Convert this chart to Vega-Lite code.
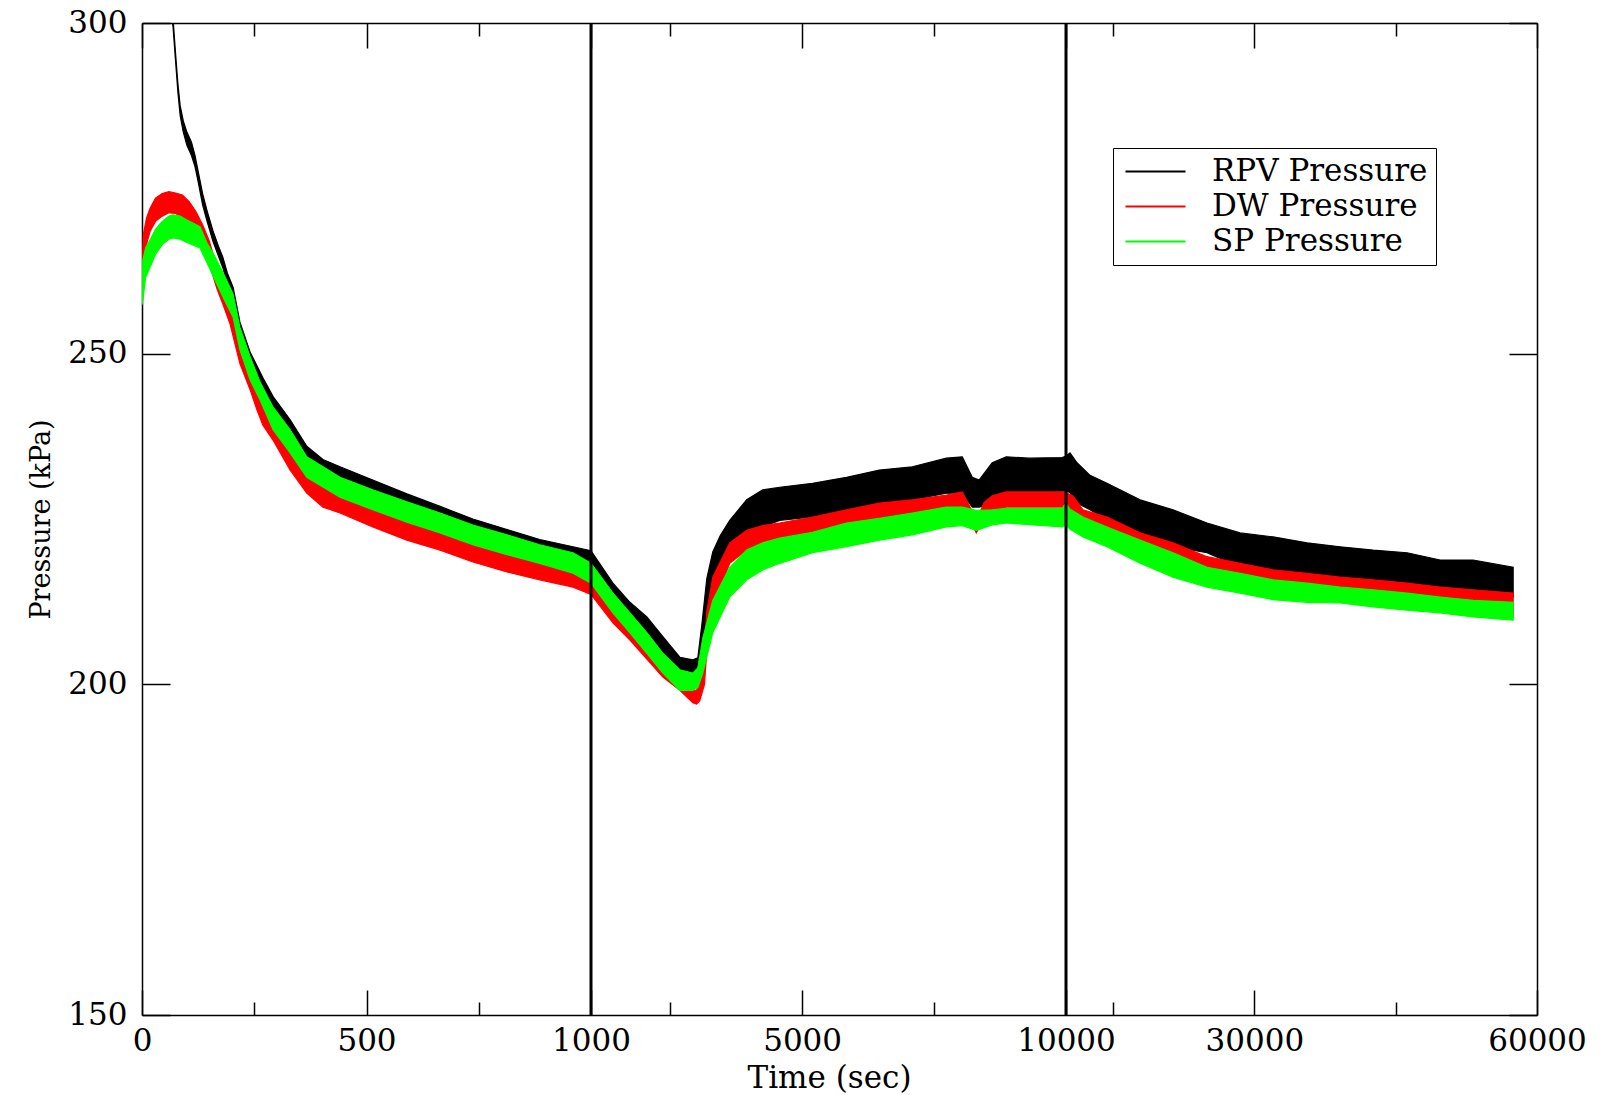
{
  "$schema": "https://vega.github.io/schema/vega-lite/v6.json",
  "width": 1395,
  "height": 992,
  "autosize": {"type": "none"},
  "padding": {"left": 142, "top": 23, "right": 63, "bottom": 80},
  "background": "white",
  "config": {
    "view": {"stroke": null},
    "font": "DejaVu Serif",
    "axis": {
      "grid": false,
      "domainColor": "black",
      "domainWidth": 1.5,
      "tickColor": "black",
      "tickWidth": 1.5,
      "labelColor": "black",
      "titleColor": "black",
      "labelFont": "DejaVu Serif",
      "titleFont": "DejaVu Serif",
      "labelFontSize": 31,
      "titleFontSize": 31,
      "titleFontWeight": "normal",
      "labelFlush": false,
      "labelOverlap": false
    },
    "legend": {
      "orient": "none",
      "legendX": 971,
      "legendY": 125,
      "symbolType": "M-1.1,0H4.9",
      "symbolSize": 400,
      "symbolStrokeWidth": 2,
      "labelFont": "DejaVu Serif",
      "labelFontSize": 31,
      "labelColor": "black",
      "labelOffset": 60,
      "labelLimit": 0,
      "padding": 8,
      "rowPadding": 3,
      "strokeColor": "black",
      "fillColor": "white",
      "cornerRadius": 0
    }
  },
  "datasets": {
    "curves": [
      {"s":"RPV Pressure","t":66,"lo":301,"hi":303},
      {"s":"RPV Pressure","t":69,"lo":299.5,"hi":300.8},
      {"s":"RPV Pressure","t":75,"lo":294,"hi":295.2},
      {"s":"RPV Pressure","t":80,"lo":289.5,"hi":290.8},
      {"s":"RPV Pressure","t":85,"lo":286,"hi":287.5},
      {"s":"RPV Pressure","t":92,"lo":283.5,"hi":285.2},
      {"s":"RPV Pressure","t":100,"lo":281.5,"hi":283.5},
      {"s":"RPV Pressure","t":110,"lo":280,"hi":282},
      {"s":"RPV Pressure","t":118,"lo":278.3,"hi":280},
      {"s":"RPV Pressure","t":125,"lo":276,"hi":277.6},
      {"s":"RPV Pressure","t":135,"lo":272.5,"hi":274.2},
      {"s":"RPV Pressure","t":145,"lo":270,"hi":271.6},
      {"s":"RPV Pressure","t":158,"lo":267,"hi":268.6},
      {"s":"RPV Pressure","t":170,"lo":264.8,"hi":266.3},
      {"s":"RPV Pressure","t":180,"lo":263,"hi":264.6},
      {"s":"RPV Pressure","t":190,"lo":260.5,"hi":262.2},
      {"s":"RPV Pressure","t":203,"lo":257.5,"hi":260},
      {"s":"RPV Pressure","t":218,"lo":252,"hi":254.8},
      {"s":"RPV Pressure","t":241,"lo":247.3,"hi":250.2},
      {"s":"RPV Pressure","t":269,"lo":243.4,"hi":246.4},
      {"s":"RPV Pressure","t":292,"lo":240.5,"hi":243.5},
      {"s":"RPV Pressure","t":330,"lo":237,"hi":240},
      {"s":"RPV Pressure","t":367,"lo":233,"hi":236},
      {"s":"RPV Pressure","t":403,"lo":231,"hi":234},
      {"s":"RPV Pressure","t":441,"lo":229.9,"hi":232.9},
      {"s":"RPV Pressure","t":514,"lo":227.9,"hi":230.9},
      {"s":"RPV Pressure","t":590,"lo":225.8,"hi":228.8},
      {"s":"RPV Pressure","t":664,"lo":223.9,"hi":226.9},
      {"s":"RPV Pressure","t":737,"lo":222,"hi":225},
      {"s":"RPV Pressure","t":813,"lo":220.4,"hi":223.4},
      {"s":"RPV Pressure","t":886,"lo":218.9,"hi":221.9},
      {"s":"RPV Pressure","t":960,"lo":217.8,"hi":220.8},
      {"s":"RPV Pressure","t":1000,"lo":217.4,"hi":220.2},
      {"s":"RPV Pressure","t":1416,"lo":212.7,"hi":215.3},
      {"s":"RPV Pressure","t":1738,"lo":209.7,"hi":212.4},
      {"s":"RPV Pressure","t":2059,"lo":207.2,"hi":210.2},
      {"s":"RPV Pressure","t":2362,"lo":204.1,"hi":207.2},
      {"s":"RPV Pressure","t":2683,"lo":202.2,"hi":204.1},
      {"s":"RPV Pressure","t":2929,"lo":201.7,"hi":203.7},
      {"s":"RPV Pressure","t":3024,"lo":201.5,"hi":204},
      {"s":"RPV Pressure","t":3100,"lo":203,"hi":209},
      {"s":"RPV Pressure","t":3194,"lo":210,"hi":216},
      {"s":"RPV Pressure","t":3307,"lo":214,"hi":220},
      {"s":"RPV Pressure","t":3450,"lo":217,"hi":222.5},
      {"s":"RPV Pressure","t":3629,"lo":219.9,"hi":224.8},
      {"s":"RPV Pressure","t":3950,"lo":222.9,"hi":227.9},
      {"s":"RPV Pressure","t":4253,"lo":223.8,"hi":229.4},
      {"s":"RPV Pressure","t":4574,"lo":224.8,"hi":229.8},
      {"s":"RPV Pressure","t":5198,"lo":225.3,"hi":230.4},
      {"s":"RPV Pressure","t":5841,"lo":225.9,"hi":231.3},
      {"s":"RPV Pressure","t":6465,"lo":226.8,"hi":232.4},
      {"s":"RPV Pressure","t":7089,"lo":227.9,"hi":232.9},
      {"s":"RPV Pressure","t":7732,"lo":228.9,"hi":234.2},
      {"s":"RPV Pressure","t":8035,"lo":228.9,"hi":234.4},
      {"s":"RPV Pressure","t":8224,"lo":226.8,"hi":231.3},
      {"s":"RPV Pressure","t":8356,"lo":226.8,"hi":230.9},
      {"s":"RPV Pressure","t":8602,"lo":227.5,"hi":233.5},
      {"s":"RPV Pressure","t":8867,"lo":228.9,"hi":234.4},
      {"s":"RPV Pressure","t":9302,"lo":229.1,"hi":234.2},
      {"s":"RPV Pressure","t":9926,"lo":229.2,"hi":234.3},
      {"s":"RPV Pressure","t":10000,"lo":229.2,"hi":234.5},
      {"s":"RPV Pressure","t":10425,"lo":229,"hi":235},
      {"s":"RPV Pressure","t":11170,"lo":227.4,"hi":233.5},
      {"s":"RPV Pressure","t":12550,"lo":226.4,"hi":231.6},
      {"s":"RPV Pressure","t":14350,"lo":224.8,"hi":230.4},
      {"s":"RPV Pressure","t":17860,"lo":222.9,"hi":227.9},
      {"s":"RPV Pressure","t":21360,"lo":220.8,"hi":226.4},
      {"s":"RPV Pressure","t":24970,"lo":219.9,"hi":224.4},
      {"s":"RPV Pressure","t":28480,"lo":217.7,"hi":222.9},
      {"s":"RPV Pressure","t":31980,"lo":216.8,"hi":222.3},
      {"s":"RPV Pressure","t":35590,"lo":216.2,"hi":221.4},
      {"s":"RPV Pressure","t":39100,"lo":215.3,"hi":220.8},
      {"s":"RPV Pressure","t":42600,"lo":214.7,"hi":220.3},
      {"s":"RPV Pressure","t":46210,"lo":214.3,"hi":219.9},
      {"s":"RPV Pressure","t":49720,"lo":213.8,"hi":218.8},
      {"s":"RPV Pressure","t":53220,"lo":213.2,"hi":218.8},
      {"s":"RPV Pressure","t":57470,"lo":213.2,"hi":217.7},

      {"s":"DW Pressure","t":0,"lo":258,"hi":262},
      {"s":"DW Pressure","t":3,"lo":262,"hi":268},
      {"s":"DW Pressure","t":10,"lo":266.5,"hi":270.5},
      {"s":"DW Pressure","t":18,"lo":268.5,"hi":272},
      {"s":"DW Pressure","t":30,"lo":270,"hi":273.5},
      {"s":"DW Pressure","t":45,"lo":270.8,"hi":274.2},
      {"s":"DW Pressure","t":60,"lo":271.3,"hi":274.5},
      {"s":"DW Pressure","t":75,"lo":271.2,"hi":274.3},
      {"s":"DW Pressure","t":90,"lo":270.5,"hi":274},
      {"s":"DW Pressure","t":105,"lo":269.5,"hi":273},
      {"s":"DW Pressure","t":120,"lo":268,"hi":271.5},
      {"s":"DW Pressure","t":135,"lo":266,"hi":269.5},
      {"s":"DW Pressure","t":150,"lo":263.5,"hi":267},
      {"s":"DW Pressure","t":167,"lo":259.8,"hi":263},
      {"s":"DW Pressure","t":180,"lo":257.5,"hi":261.5},
      {"s":"DW Pressure","t":196,"lo":254.5,"hi":258},
      {"s":"DW Pressure","t":218,"lo":248.5,"hi":253},
      {"s":"DW Pressure","t":241,"lo":244.5,"hi":248},
      {"s":"DW Pressure","t":256,"lo":241.5,"hi":245},
      {"s":"DW Pressure","t":269,"lo":239.2,"hi":243},
      {"s":"DW Pressure","t":292,"lo":236.9,"hi":240.4},
      {"s":"DW Pressure","t":330,"lo":232.4,"hi":235.9},
      {"s":"DW Pressure","t":367,"lo":228.9,"hi":232},
      {"s":"DW Pressure","t":403,"lo":226.8,"hi":229.8},
      {"s":"DW Pressure","t":441,"lo":225.9,"hi":228.3},
      {"s":"DW Pressure","t":514,"lo":223.8,"hi":226.4},
      {"s":"DW Pressure","t":590,"lo":221.8,"hi":224.8},
      {"s":"DW Pressure","t":664,"lo":220.3,"hi":222.9},
      {"s":"DW Pressure","t":737,"lo":218.5,"hi":221.4},
      {"s":"DW Pressure","t":813,"lo":217,"hi":219.9},
      {"s":"DW Pressure","t":886,"lo":215.8,"hi":218.3},
      {"s":"DW Pressure","t":960,"lo":214.7,"hi":217.3},
      {"s":"DW Pressure","t":1000,"lo":213.6,"hi":216.3},
      {"s":"DW Pressure","t":1416,"lo":209.3,"hi":211.2},
      {"s":"DW Pressure","t":1738,"lo":206.7,"hi":208.7},
      {"s":"DW Pressure","t":2059,"lo":203.8,"hi":206},
      {"s":"DW Pressure","t":2362,"lo":201.1,"hi":203.2},
      {"s":"DW Pressure","t":2683,"lo":199.1,"hi":200.6},
      {"s":"DW Pressure","t":2929,"lo":197.2,"hi":199.1},
      {"s":"DW Pressure","t":3000,"lo":197,"hi":199},
      {"s":"DW Pressure","t":3060,"lo":197.5,"hi":201},
      {"s":"DW Pressure","t":3150,"lo":200,"hi":206},
      {"s":"DW Pressure","t":3194,"lo":205,"hi":211},
      {"s":"DW Pressure","t":3307,"lo":211.7,"hi":216.2},
      {"s":"DW Pressure","t":3629,"lo":218.3,"hi":221.4},
      {"s":"DW Pressure","t":3950,"lo":220.3,"hi":223.3},
      {"s":"DW Pressure","t":4253,"lo":221.4,"hi":224},
      {"s":"DW Pressure","t":4574,"lo":221.8,"hi":224.4},
      {"s":"DW Pressure","t":5198,"lo":222.9,"hi":225.3},
      {"s":"DW Pressure","t":5841,"lo":223.8,"hi":226.4},
      {"s":"DW Pressure","t":6465,"lo":224.8,"hi":227.4},
      {"s":"DW Pressure","t":7089,"lo":225.3,"hi":227.9},
      {"s":"DW Pressure","t":7732,"lo":226.4,"hi":228.6},
      {"s":"DW Pressure","t":8035,"lo":226.8,"hi":229.1},
      {"s":"DW Pressure","t":8200,"lo":224.5,"hi":226.5},
      {"s":"DW Pressure","t":8300,"lo":222.9,"hi":224.8},
      {"s":"DW Pressure","t":8450,"lo":225,"hi":227.5},
      {"s":"DW Pressure","t":8602,"lo":226,"hi":228.5},
      {"s":"DW Pressure","t":8867,"lo":226.8,"hi":229.1},
      {"s":"DW Pressure","t":9926,"lo":226.8,"hi":229.1},
      {"s":"DW Pressure","t":10000,"lo":226.5,"hi":229},
      {"s":"DW Pressure","t":10740,"lo":226,"hi":228.5},
      {"s":"DW Pressure","t":11800,"lo":224.4,"hi":226.4},
      {"s":"DW Pressure","t":14350,"lo":222.9,"hi":225.3},
      {"s":"DW Pressure","t":17860,"lo":219.9,"hi":222.9},
      {"s":"DW Pressure","t":21360,"lo":217.7,"hi":221.4},
      {"s":"DW Pressure","t":24970,"lo":216.2,"hi":219.3},
      {"s":"DW Pressure","t":28480,"lo":214.7,"hi":218.3},
      {"s":"DW Pressure","t":31980,"lo":214.3,"hi":217.3},
      {"s":"DW Pressure","t":35590,"lo":213.8,"hi":216.8},
      {"s":"DW Pressure","t":39100,"lo":213.2,"hi":216.2},
      {"s":"DW Pressure","t":42600,"lo":212.8,"hi":215.8},
      {"s":"DW Pressure","t":46210,"lo":212.3,"hi":215.3},
      {"s":"DW Pressure","t":49720,"lo":211.7,"hi":214.7},
      {"s":"DW Pressure","t":53220,"lo":211.2,"hi":214.3},
      {"s":"DW Pressure","t":57470,"lo":210.2,"hi":213.8},

      {"s":"SP Pressure","t":0,"lo":257.4,"hi":259.3},
      {"s":"SP Pressure","t":2,"lo":258.1,"hi":264.2},
      {"s":"SP Pressure","t":8,"lo":261.5,"hi":266},
      {"s":"SP Pressure","t":18,"lo":263.1,"hi":267.2},
      {"s":"SP Pressure","t":30,"lo":265,"hi":268.8},
      {"s":"SP Pressure","t":45,"lo":266.5,"hi":270},
      {"s":"SP Pressure","t":60,"lo":267.3,"hi":270.8},
      {"s":"SP Pressure","t":69,"lo":267.5,"hi":271},
      {"s":"SP Pressure","t":85,"lo":267.3,"hi":270.8},
      {"s":"SP Pressure","t":100,"lo":266.8,"hi":270.2},
      {"s":"SP Pressure","t":129,"lo":266,"hi":269.2},
      {"s":"SP Pressure","t":145,"lo":263.7,"hi":266.7},
      {"s":"SP Pressure","t":160,"lo":261.5,"hi":265},
      {"s":"SP Pressure","t":180,"lo":258.6,"hi":262.3},
      {"s":"SP Pressure","t":203,"lo":255.5,"hi":259},
      {"s":"SP Pressure","t":218,"lo":250.6,"hi":254},
      {"s":"SP Pressure","t":241,"lo":246,"hi":249.5},
      {"s":"SP Pressure","t":263,"lo":243,"hi":245.7},
      {"s":"SP Pressure","t":292,"lo":238.5,"hi":241.9},
      {"s":"SP Pressure","t":330,"lo":235,"hi":238.5},
      {"s":"SP Pressure","t":367,"lo":231.3,"hi":234.4},
      {"s":"SP Pressure","t":441,"lo":228.3,"hi":231.3},
      {"s":"SP Pressure","t":514,"lo":226.4,"hi":229.4},
      {"s":"SP Pressure","t":590,"lo":224.5,"hi":227.6},
      {"s":"SP Pressure","t":664,"lo":222.9,"hi":225.9},
      {"s":"SP Pressure","t":737,"lo":221.1,"hi":224.1},
      {"s":"SP Pressure","t":813,"lo":219.6,"hi":222.6},
      {"s":"SP Pressure","t":886,"lo":218.3,"hi":221.1},
      {"s":"SP Pressure","t":960,"lo":216.8,"hi":219.9},
      {"s":"SP Pressure","t":1000,"lo":215.3,"hi":218.3},
      {"s":"SP Pressure","t":1416,"lo":210.8,"hi":213.8},
      {"s":"SP Pressure","t":1738,"lo":207.8,"hi":210.8},
      {"s":"SP Pressure","t":2059,"lo":204.7,"hi":207.8},
      {"s":"SP Pressure","t":2362,"lo":201.7,"hi":204.7},
      {"s":"SP Pressure","t":2683,"lo":199.1,"hi":202.2},
      {"s":"SP Pressure","t":2929,"lo":199.1,"hi":201.7},
      {"s":"SP Pressure","t":3024,"lo":199.5,"hi":202.5},
      {"s":"SP Pressure","t":3118,"lo":201.7,"hi":207},
      {"s":"SP Pressure","t":3307,"lo":207.8,"hi":212.7},
      {"s":"SP Pressure","t":3629,"lo":213.2,"hi":217.7},
      {"s":"SP Pressure","t":3950,"lo":215.8,"hi":220.3},
      {"s":"SP Pressure","t":4253,"lo":217.3,"hi":221.4},
      {"s":"SP Pressure","t":4574,"lo":218.3,"hi":222.1},
      {"s":"SP Pressure","t":5198,"lo":219.9,"hi":223},
      {"s":"SP Pressure","t":5841,"lo":220.8,"hi":224.4},
      {"s":"SP Pressure","t":6465,"lo":221.8,"hi":225.1},
      {"s":"SP Pressure","t":7089,"lo":222.6,"hi":225.9},
      {"s":"SP Pressure","t":7732,"lo":223.8,"hi":226.8},
      {"s":"SP Pressure","t":8035,"lo":224,"hi":226.8},
      {"s":"SP Pressure","t":8300,"lo":223.3,"hi":226.3},
      {"s":"SP Pressure","t":8602,"lo":224.1,"hi":226.4},
      {"s":"SP Pressure","t":8867,"lo":224.4,"hi":226.6},
      {"s":"SP Pressure","t":9926,"lo":223.8,"hi":226.6},
      {"s":"SP Pressure","t":10000,"lo":224.1,"hi":227.4},
      {"s":"SP Pressure","t":10400,"lo":223.5,"hi":226.5},
      {"s":"SP Pressure","t":11800,"lo":222.3,"hi":225.3},
      {"s":"SP Pressure","t":14350,"lo":220.8,"hi":223.8},
      {"s":"SP Pressure","t":17860,"lo":218.3,"hi":221.8},
      {"s":"SP Pressure","t":21360,"lo":216.2,"hi":219.9},
      {"s":"SP Pressure","t":24970,"lo":214.7,"hi":217.7},
      {"s":"SP Pressure","t":28480,"lo":213.8,"hi":216.8},
      {"s":"SP Pressure","t":31980,"lo":212.8,"hi":215.8},
      {"s":"SP Pressure","t":35590,"lo":212.4,"hi":215.3},
      {"s":"SP Pressure","t":39100,"lo":212.3,"hi":214.7},
      {"s":"SP Pressure","t":42600,"lo":211.7,"hi":214.3},
      {"s":"SP Pressure","t":46210,"lo":211.2,"hi":213.8},
      {"s":"SP Pressure","t":49720,"lo":210.8,"hi":213.2},
      {"s":"SP Pressure","t":53220,"lo":210.2,"hi":212.7},
      {"s":"SP Pressure","t":57470,"lo":209.7,"hi":212.4}
    ],
    "dividers": [{"t": 1000}, {"t": 10000}]
  },
  "resolve": {"axis": {"x": "independent", "y": "independent"}},
  "layer": [
    {
      "data": {"name": "curves"},
      "transform": [{"filter": {"field": "s", "equal": "RPV Pressure"}}],
      "mark": {"type": "area", "fill": "#000000", "strokeWidth": 1.2, "clip": true},
      "encoding": {
        "x": {"field": "t", "type": "quantitative",
          "scale": {"domain": [0, 1000, 10000, 60000], "range": [0, 449, 924, 1395], "nice": false, "zero": false},
          "axis": {
            "orient": "bottom",
            "values": [0, 250, 500, 750, 1000, 2500, 5000, 7500, 10000, 15000, 30000, 45000, 60000],
            "format": "d",
            "labelExpr": "indexof([250, 750, 2500, 7500, 15000, 45000], datum.value) >= 0 ? '' : datum.label",
            "tickSize": {"condition": {"test": "indexof([250, 750, 2500, 7500, 15000, 45000], datum.value) >= 0", "value": -13}, "value": -25},
            "labelPadding": 36,
            "title": "Time (sec)",
            "titleX": 687,
            "titleY": 72,
            "titleAlign": "center",
            "titleBaseline": "alphabetic"
          }
        },
        "y": {"field": "lo", "type": "quantitative",
          "scale": {"domain": [150, 300], "nice": false, "zero": false},
          "axis": {
            "orient": "left",
            "values": [150, 200, 250, 300],
            "tickSize": -28,
            "labelPadding": 43,
            "title": "Pressure (kPa)",
            "titleFontSize": 27,
            "titlePadding": 12
          }
        },
        "y2": {"field": "hi"},
        "stroke": {"field": "s", "type": "nominal",
          "scale": {"domain": ["RPV Pressure", "DW Pressure", "SP Pressure"], "range": ["#000000", "#ff0000", "#00ff00"]},
          "legend": {"title": null}
        }
      }
    },
    {
      "data": {"name": "curves"},
      "transform": [{"filter": {"field": "s", "equal": "DW Pressure"}}],
      "mark": {"type": "area", "fill": "#ff0000", "strokeWidth": 1.2, "clip": true},
      "encoding": {
        "x": {"field": "t", "type": "quantitative", "axis": null},
        "y": {"field": "lo", "type": "quantitative", "axis": null},
        "y2": {"field": "hi"},
        "stroke": {"field": "s", "type": "nominal"}
      }
    },
    {
      "data": {"name": "curves"},
      "transform": [{"filter": {"field": "s", "equal": "SP Pressure"}}],
      "mark": {"type": "area", "fill": "#00ff00", "strokeWidth": 1.2, "clip": true},
      "encoding": {
        "x": {"field": "t", "type": "quantitative",
          "axis": {
            "orient": "top",
            "values": [0, 250, 500, 750, 1000, 2500, 5000, 7500, 10000, 15000, 30000, 45000, 60000],
            "labels": false,
            "tickSize": {"condition": {"test": "indexof([250, 750, 2500, 7500, 15000, 45000], datum.value) >= 0", "value": -13}, "value": -25},
            "title": null
          }
        },
        "y": {"field": "lo", "type": "quantitative",
          "axis": {
            "orient": "right",
            "values": [150, 200, 250, 300],
            "labels": false,
            "tickSize": -28,
            "title": null
          }
        },
        "y2": {"field": "hi"},
        "stroke": {"field": "s", "type": "nominal"}
      }
    },
    {
      "data": {"name": "dividers"},
      "mark": {"type": "rule", "color": "black", "strokeWidth": 3},
      "encoding": {
        "x": {"field": "t", "type": "quantitative", "axis": null}
      }
    }
  ]
}
